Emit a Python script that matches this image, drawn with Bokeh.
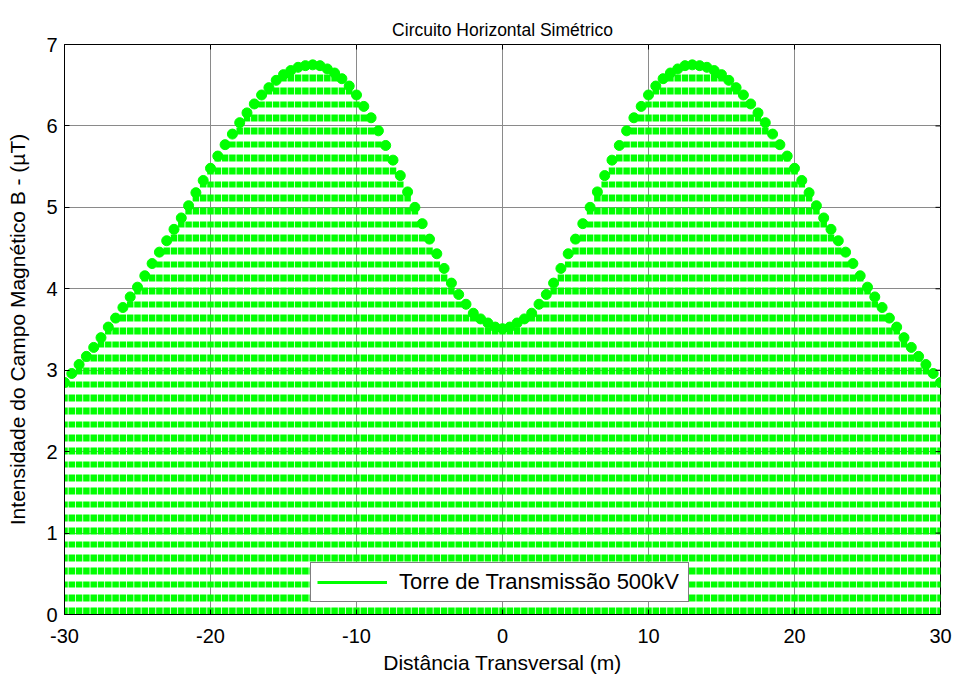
import math
from bokeh.plotting import figure
from bokeh.models import Range1d, FixedTicker, Legend, LegendItem, ColumnDataSource, LinearAxis
from bokeh.embed import file_html
from bokeh.resources import INLINE

# distance from tower axis (m)
distance = [-30.0, -29.5, -29.0, -28.5, -28.0, -27.5, -27.0, -26.5, -26.0, -25.5,
            -25.0, -24.5, -24.0, -23.5, -23.0, -22.5, -22.0, -21.5, -21.0, -20.5,
            -20.0, -19.5, -19.0, -18.5, -18.0, -17.5, -17.0, -16.5, -16.0, -15.5,
            -15.0, -14.5, -14.0, -13.5, -13.0, -12.5, -12.0, -11.5, -11.0, -10.5,
            -10.0, -9.5, -9.0, -8.5, -8.0, -7.5, -7.0, -6.5, -6.0, -5.5,
            -5.0, -4.5, -4.0, -3.5, -3.0, -2.5, -2.0, -1.5, -1.0, -0.5,
            0.0, 0.5, 1.0, 1.5, 2.0, 2.5, 3.0, 3.5, 4.0, 4.5,
            5.0, 5.5, 6.0, 6.5, 7.0, 7.5, 8.0, 8.5, 9.0, 9.5,
            10.0, 10.5, 11.0, 11.5, 12.0, 12.5, 13.0, 13.5, 14.0, 14.5,
            15.0, 15.5, 16.0, 16.5, 17.0, 17.5, 18.0, 18.5, 19.0, 19.5,
            20.0, 20.5, 21.0, 21.5, 22.0, 22.5, 23.0, 23.5, 24.0, 24.5,
            25.0, 25.5, 26.0, 26.5, 27.0, 27.5, 28.0, 28.5, 29.0, 29.5, 30.0]

# magnetic field B (uT)
field = [2.85, 2.96, 3.07, 3.17, 3.28, 3.40, 3.53, 3.64, 3.77, 3.90,
         4.02, 4.16, 4.31, 4.45, 4.59, 4.73, 4.87, 5.02, 5.18, 5.33,
         5.48, 5.63, 5.77, 5.90, 6.04, 6.16, 6.27, 6.38, 6.47, 6.56,
         6.63, 6.68, 6.72, 6.74, 6.75, 6.74, 6.70, 6.65, 6.58, 6.49,
         6.38, 6.24, 6.10, 5.94, 5.76, 5.58, 5.39, 5.19, 5.00, 4.80,
         4.61, 4.43, 4.25, 4.07, 3.93, 3.81, 3.70, 3.63, 3.58, 3.53,
         3.51, 3.53, 3.58, 3.63, 3.70, 3.81, 3.93, 4.07, 4.25, 4.43,
         4.61, 4.80, 5.00, 5.19, 5.39, 5.58, 5.76, 5.94, 6.10, 6.24,
         6.38, 6.49, 6.58, 6.65, 6.70, 6.74, 6.75, 6.74, 6.72, 6.68,
         6.63, 6.56, 6.47, 6.38, 6.27, 6.16, 6.04, 5.90, 5.77, 5.63,
         5.48, 5.33, 5.18, 5.02, 4.87, 4.73, 4.59, 4.45, 4.31, 4.16,
         4.02, 3.90, 3.77, 3.64, 3.53, 3.40, 3.28, 3.17, 3.07, 2.96, 2.85]

x_ticks = [-30, -20, -10, 0, 10, 20, 30]
y_ticks = [0, 1, 2, 3, 4, 5, 6, 7]
series_label = "Torre de Transmissão 500kV"
title_text = "Circuito Horizontal Simétrico"

FONT = "Liberation Sans"
GREEN = "#00ff00"
X_MIN, X_MAX = -30, 30
Y_MIN, Y_MAX = 0, 7

src = ColumnDataSource(dict(x=distance, y=field, base=[0] * len(distance)))

p = figure(width=957, height=677, output_backend="svg", toolbar_location=None,
           x_range=Range1d(X_MIN, X_MAX), y_range=Range1d(Y_MIN, Y_MAX),
           min_border_left=64, min_border_right=17, min_border_top=44,
           min_border_bottom=63)

# empty spacer axis above the box (no ticks, no labels) to lift the title
spacer = LinearAxis(ticker=FixedTicker(ticks=[]), major_tick_out=9, major_tick_in=0,
                    major_label_standoff=0, axis_label_standoff=0,
                    axis_line_color=None, major_tick_line_color=None,
                    minor_tick_line_color=None)
p.add_layout(spacer, "above")

p.title.text = title_text
p.title.align = "center"
p.title.text_font = FONT
p.title.text_font_size = "17.5px"
p.title.text_font_style = "normal"
p.title.text_color = "black"

for ax in p.below + p.left:
    ax.major_tick_in = 5
    ax.major_tick_out = 0
    ax.minor_tick_line_color = None
    ax.axis_line_color = "black"
    ax.major_tick_line_color = "black"
    ax.major_label_text_font = FONT
    ax.major_label_text_font_size = "20px"
    ax.major_label_text_color = "black"
    ax.axis_label_text_font = FONT
    ax.axis_label_text_font_style = "normal"
    ax.axis_label_text_font_size = "21px"
    ax.axis_label_text_color = "black"

xax = p.below[0]
yax = p.left[0]
xax.ticker = FixedTicker(ticks=x_ticks)
xax.major_label_overrides = {t: str(t) for t in x_ticks}
yax.ticker = FixedTicker(ticks=y_ticks)
yax.major_label_overrides = {t: str(t) for t in y_ticks}

xax.axis_label = "Distância Transversal (m)"
xax.major_label_standoff = 14
xax.axis_label_standoff = 5
yax.axis_label = "Intensidade do Campo Magnético B - (µT)"
yax.major_label_standoff = 7
yax.axis_label_standoff = 14

p.xgrid.ticker = FixedTicker(ticks=x_ticks)
p.ygrid.ticker = FixedTicker(ticks=y_ticks)
p.grid.grid_line_color = "#8a8a8a"
p.grid.grid_line_width = 1

p.outline_line_color = "black"
p.background_fill_color = "white"
p.border_fill_color = "white"

# stems (dashed) and markers
p.segment(x0="x", y0="base", x1="x", y1="y", source=src, line_color=GREEN,
          line_width=6.5, line_dash="7 6 7 7 6 7")
p.scatter("x", "y", source=src, size=10, fill_color=GREEN, line_color=GREEN)

# inward ticks on the top and right edges of the box (half of each dash is clipped)
p.scatter(x=x_ticks, y=[Y_MAX] * len(x_ticks), marker="dash", size=10,
          angle=math.pi / 2, line_color="black", line_width=1)
p.scatter(x=[X_MAX] * len(y_ticks), y=y_ticks, marker="dash", size=10,
          line_color="black", line_width=1)

legend_line = p.line(x=[float("nan")], y=[float("nan")], line_color=GREEN, line_width=3)
legend = Legend(items=[LegendItem(label=series_label, renderers=[legend_line])],
                location=(246, 12), margin=0, padding=6, glyph_width=70,
                label_standoff=12, label_width=283,
                border_line_color="black", border_line_width=1,
                background_fill_color="white", background_fill_alpha=1.0,
                label_text_font=FONT, label_text_font_size="22px",
                label_text_color="black")
p.add_layout(legend)

open("out.html", "w").write(file_html(p, INLINE))
